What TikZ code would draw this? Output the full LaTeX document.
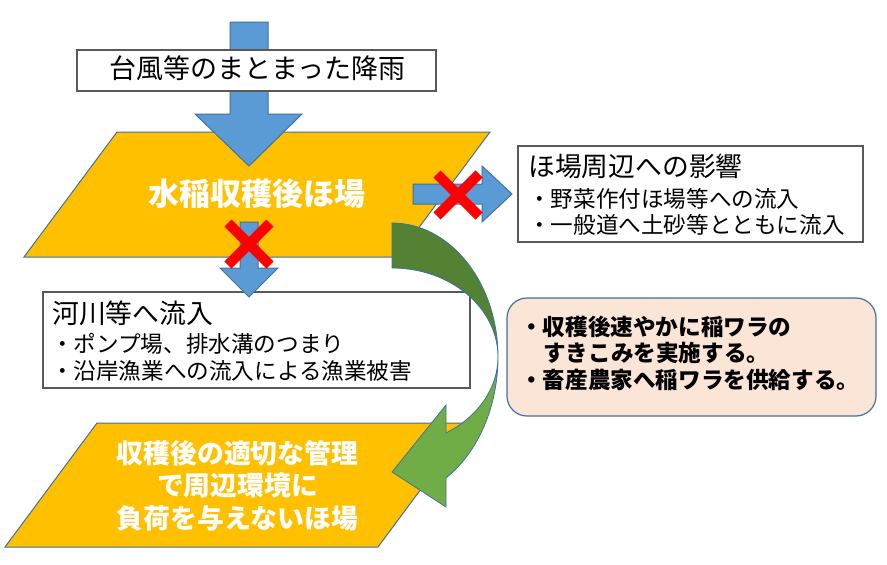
\documentclass[tikz,border=0pt]{standalone}
\usepackage{fontspec}
\newfontfamily\jp{Noto Sans CJK JP}
\definecolor{bfill}{HTML}{5B9BD5}
\definecolor{bline}{HTML}{41719C}
\definecolor{ofill}{HTML}{FFC000}
\definecolor{gdark}{HTML}{548235}
\definecolor{glight}{HTML}{70AD47}
\definecolor{peach}{HTML}{FBE5D6}
\definecolor{boxline}{HTML}{595959}
\begin{document}
\begin{tikzpicture}[x=1pt,y=-1pt,
  blockarrow/.style={fill=bfill, draw=bline, line width=1},
  para/.style={fill=ofill, draw=bline, line width=1},
  plainbox/.style={draw=boxline, fill=white, line width=1.3, inner sep=0},
  notebox/.style={draw=bline, fill=peach, line width=1.2, rounded corners=20, inner sep=0},
  crossmark/.style={draw=red, line width=10},
  greenline/.style={draw=bline, line width=0.8},
  jptext/.style={inner sep=0, anchor=west, text=black},
  bigw/.style={inner sep=0, text=white, align=center}]
\useasboundingbox (0,0) rectangle (887,565);
\fill[white] (0,0) rectangle (887,565);

% parallelograms
\filldraw[para] (117,132) -- (490,132) -- (397,257) -- (24,257) -- cycle;
\filldraw[para] (97,423) -- (470,423) -- (378,547) -- (5,547) -- cycle;
\node[bigw, font={\jp\bfseries\fontsize{31pt}{31pt}\selectfont}] (field) at (257,193.5) {水稲収穫後ほ場};
\node[bigw, font={\jp\bfseries\fontsize{26.8pt}{32.5pt}\selectfont}] (goodfield) at (237.5,485.5) {収穫後の適切な管理\\で周辺環境に\\負荷を与えないほ場};

% top arrow and box
\filldraw[blockarrow] (230,22) -- (268,22) -- (268,114) -- (302,114) -- (249,166) -- (195,114) -- (230,114) -- cycle;
\node[plainbox, minimum width=359, minimum height=41] (rainbox) at (256.5,70.5) {};
\node[inner sep=0, font={\jp\fontsize{27pt}{27pt}\selectfont}] (raintext) at (257.5,68.5) {台風等のまとまった降雨};

% river box
\node[plainbox, minimum width=427, minimum height=96] (riverbox) at (256.5,340) {};
\node[jptext, font={\jp\fontsize{26.8pt}{26.8pt}\selectfont}] (river1) at (52,313) {河川等へ流入};
\node[jptext, font={\jp\fontsize{22.6pt}{22.6pt}\selectfont}] (river2) at (51,344) {・ポンプ場、排水溝のつまり};
\node[jptext, font={\jp\fontsize{22.6pt}{22.6pt}\selectfont}] (river3) at (51,371) {・沿岸漁業への流入による漁業被害};

% down arrow
\filldraw[blockarrow] (240,222) -- (258,222) -- (258,268) -- (278,268) -- (249,297) -- (220,268) -- (240,268) -- cycle;

% surroundings box
\node[plainbox, minimum width=345, minimum height=96] (aroundbox) at (690.5,194) {};
\node[jptext, font={\jp\fontsize{26.8pt}{26.8pt}\selectfont}] (around1) at (528,166.5) {ほ場周辺への影響};
\node[jptext, font={\jp\fontsize{22.6pt}{22.6pt}\selectfont}] (around2) at (528,198.5) {・野菜作付ほ場等への流入};
\node[jptext, font={\jp\fontsize{22.6pt}{22.6pt}\selectfont}] (around3) at (528,224.5) {・一般道へ土砂等とともに流入};

% right arrow
\filldraw[blockarrow] (413,184) -- (482,184) -- (482,166) -- (512,194) -- (482,222) -- (482,204) -- (413,204) -- cycle;

% crosses
\draw[crossmark] (228,223) -- (270,265) (228,265) -- (270,223);
\draw[crossmark] (437,174) -- (479,216) (437,216) -- (479,174);

% note box
\node[notebox, minimum width=369, minimum height=118] (notebox) at (691.5,357) {};
\node[jptext, font={\jp\bfseries\fontsize{22.6pt}{22.6pt}\selectfont}] (note1) at (520,327) {・収穫後速やかに稲ワラの};
\node[jptext, font={\jp\bfseries\fontsize{22.6pt}{22.6pt}\selectfont}] (note2) at (543,353) {すきこみを実施する。};
\node[jptext, font={\jp\bfseries\fontsize{22.6pt}{22.6pt}\selectfont}] (note3) at (520,380) {・畜産農家へ稲ワラを供給する。};

% green curved arrow
\filldraw[fill=gdark, greenline] (392,223) .. controls (450.5,223) and (498,283) .. (498,357)
  .. controls (498,307.8) and (450.5,268) .. (392,268) -- cycle;
\filldraw[fill=glight, greenline] (498,357) .. controls (498,406.5) and (477.9,452.5) .. (446,478)
  -- (446,507) -- (392,472) -- (446,405) -- (446,433)
  .. controls (477.9,416.9) and (498,388.2) .. (498,357) -- cycle;
\end{tikzpicture}
\end{document}
